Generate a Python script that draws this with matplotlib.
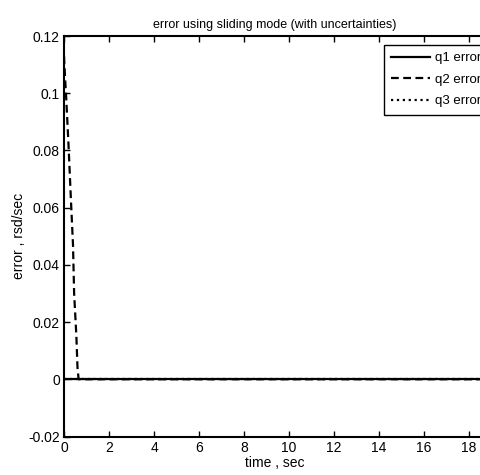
import matplotlib
matplotlib.use("Agg")
import matplotlib.pyplot as plt

plt.rcParams['font.family'] = ['Liberation Sans', 'DejaVu Sans']
plt.rcParams['font.size'] = 10

# time and error values
t_q1 = [0.0, 18.75]
q1_err = [0.0, 0.0]

t_q2 = [0.0, 0.05, 0.1, 0.2, 0.3, 0.4, 0.45, 0.55, 0.6, 0.65, 18.75]
q2_err = [0.113, 0.105, 0.098, 0.082, 0.064, 0.047, 0.030, 0.015, 0.004, 0.0, 0.0]

t_q3 = [0.0, 18.75]
q3_err = [0.0, 0.0]

xticks = [0, 2, 4, 6, 8, 10, 12, 14, 16, 18]
yticks = [-0.02, 0, 0.02, 0.04, 0.06, 0.08, 0.1, 0.12]
yticklabels = ['-0.02', '0', '0.02', '0.04', '0.06', '0.08', '0.1', '0.12']

fig = plt.figure(figsize=(4.81, 4.75), dpi=100)
ax = fig.add_axes([64/481, 38.5/475, 422/481, 400.5/475])

ax.plot(t_q1, q1_err, '-k', lw=1.6, label='q1 error')
ax.plot(t_q2, q2_err, '--k', lw=1.6, label='q2 error', dashes=(3.5, 2))
ax.plot(t_q3, q3_err, ':k', lw=1.6, label='q3 error')

ax.set_xlim(0, 18.75)
ax.set_ylim(-0.02, 0.12)
ax.set_xticks(xticks)
ax.set_yticks(yticks)
ax.set_yticklabels(yticklabels)
ax.tick_params(direction='in', length=4, width=1, top=True, right=True, pad=3)
for s in ax.spines.values():
    s.set_linewidth(1.5)

ax.set_title('error using sliding mode (with uncertainties)', fontsize=9, pad=6)
ax.set_xlabel('time , sec', labelpad=1)
ax.set_ylabel('error , rsd/sec')
ax.yaxis.set_label_coords(-0.09, 0.5)

leg = ax.legend(loc='upper left', bbox_to_anchor=(384/481, 1 - 45/475),
                bbox_transform=fig.transFigure, borderaxespad=0,
                fancybox=False, edgecolor='black', framealpha=1,
                handlelength=2.9, handletextpad=0.45, labelspacing=0.7,
                borderpad=0.55, fontsize=9.5)
leg.get_frame().set_linewidth(1)

fig.savefig('out.png', dpi=100)
